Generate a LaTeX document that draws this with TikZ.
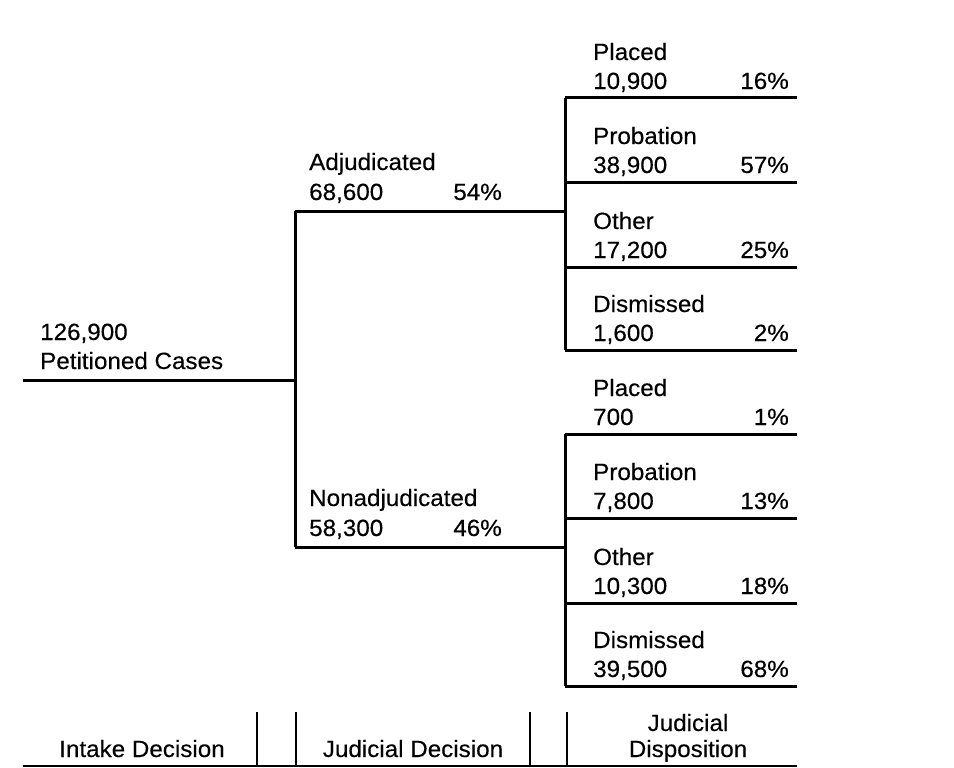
\documentclass[tikz,border=0pt]{standalone}
\usepackage{fontspec}
\setmainfont{Liberation Sans}[FakeStretch=1.03,FakeBold=0.3]
\begin{document}
\begin{tikzpicture}[x=1pt,y=-1pt,
  lbl/.style={anchor=base west,inner sep=0pt,font=\fontsize{23.5}{27}\selectfont},
  pct/.style={anchor=base east,inner sep=0pt,font=\fontsize{23.5}{27}\selectfont},
  ctr/.style={anchor=base,inner sep=0pt,font=\fontsize{23.5}{27}\selectfont},
  heavy/.style={line width=3pt},
  bar/.style={line width=2.2pt}]
\useasboundingbox (0,0) rectangle (954,768);
% main branch
\coordinate (start) at (23,380);
\coordinate (split) at (295,380);
\coordinate (adjL) at (295,211);
\coordinate (adjR) at (565,211);
\coordinate (nadL) at (295,547);
\coordinate (nadR) at (565,547);
\node[lbl] (tot) at (40,340) {126,900};
\node[lbl] (pet) at (40,369) {Petitioned Cases};
\draw[heavy] (start) -- (split);
\draw[heavy] (adjL) -- (nadL);
\draw[heavy] (adjL) -- (adjR);
\draw[heavy] (nadL) -- (nadR);
\node[lbl] (adj) at (309,170) {Adjudicated};
\node[lbl] (adjn) at (309,200) {68,600};
\node[pct] (adjp) at (502,200) {54\%};
\node[lbl] (nad) at (309,506) {Nonadjudicated};
\node[lbl] (nadn) at (309,536) {58,300};
\node[pct] (nadp) at (502,536) {46\%};
% top group
\coordinate (t1) at (565,98); \coordinate (t1e) at (797,98);
\coordinate (t2) at (565,182); \coordinate (t2e) at (797,182);
\coordinate (t3) at (565,267); \coordinate (t3e) at (797,267);
\coordinate (t4) at (565,350); \coordinate (t4e) at (797,350);
\draw[heavy] (t1) -- (t4);
\foreach \a in {1,2,3,4} \draw[heavy] (t\a) -- (t\a e);
\node[lbl] (a1) at (593,60) {Placed};
\node[lbl] (a1n) at (593,89) {10,900};
\node[pct] (a1p) at (789,89) {16\%};
\node[lbl] (a2) at (593,144) {Probation};
\node[lbl] (a2n) at (593,173) {38,900};
\node[pct] (a2p) at (789,173) {57\%};
\node[lbl] (a3) at (593,229) {Other};
\node[lbl] (a3n) at (593,258) {17,200};
\node[pct] (a3p) at (789,258) {25\%};
\node[lbl] (a4) at (593,312) {Dismissed};
\node[lbl] (a4n) at (593,341) {1,600};
\node[pct] (a4p) at (789,341) {2\%};
% bottom group
\coordinate (b1) at (565,434); \coordinate (b1e) at (797,434);
\coordinate (b2) at (565,518); \coordinate (b2e) at (797,518);
\coordinate (b3) at (565,603); \coordinate (b3e) at (797,603);
\coordinate (b4) at (565,686); \coordinate (b4e) at (797,686);
\draw[heavy] (b1) -- (b4);
\foreach \a in {1,2,3,4} \draw[heavy] (b\a) -- (b\a e);
\node[lbl] (c1) at (593,396) {Placed};
\node[lbl] (c1n) at (593,425) {700};
\node[pct] (c1p) at (789,425) {1\%};
\node[lbl] (c2) at (593,480) {Probation};
\node[lbl] (c2n) at (593,509) {7,800};
\node[pct] (c2p) at (789,509) {13\%};
\node[lbl] (c3) at (593,565) {Other};
\node[lbl] (c3n) at (593,594) {10,300};
\node[pct] (c3p) at (789,594) {18\%};
\node[lbl] (c4) at (593,648) {Dismissed};
\node[lbl] (c4n) at (593,677) {39,500};
\node[pct] (c4p) at (789,677) {68\%};
% stage legend
\coordinate (f0) at (23,766); \coordinate (f1) at (797,766);
\draw[bar] (f0) -- (f1);
\foreach \x [count=\i] in {257,296,530,567} {
  \coordinate (v\i) at (\x,712); \coordinate (w\i) at (\x,766);
  \draw[bar] (v\i) -- (w\i);
}
\node[ctr] (s1) at (142,757) {Intake Decision};
\node[ctr] (s2) at (413,757) {Judicial Decision};
\node[ctr] (s3a) at (688,731) {Judicial};
\node[ctr] (s3b) at (688,757) {Disposition};
\end{tikzpicture}
\end{document}
